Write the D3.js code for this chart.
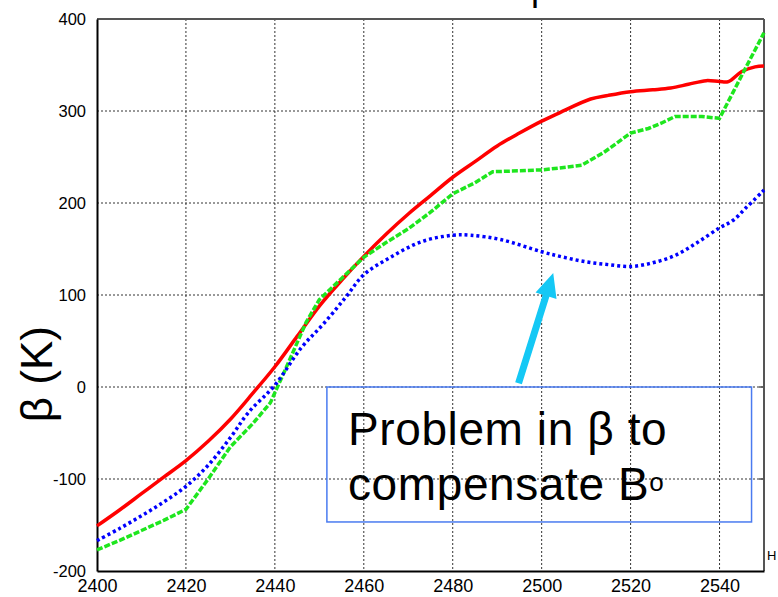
<!DOCTYPE html>
<html>
<head>
<meta charset="utf-8">
<script src="https://cdn.jsdelivr.net/npm/d3@7"></script>
<style>
  body { margin: 0; background: #fff; }
  svg { display: block; }
</style>
</head>
<body>
<svg id="chart" width="778" height="597"></svg>
<script>
// red (solid)
const redX = [2400, 2405, 2410, 2415, 2420, 2425, 2430, 2435, 2440, 2445, 2450, 2455, 2460, 2465, 2470, 2475, 2480, 2485, 2490, 2495, 2500, 2504, 2511, 2515, 2520, 2525, 2529, 2533, 2537, 2540, 2542, 2545, 2548, 2550];
const redY = [-151, -134, -116, -98, -80, -59, -35, -7, 22, 55, 88, 116, 142, 166, 188, 208, 228, 245, 262, 276, 289, 298, 313, 317, 321, 323, 325, 329, 333, 332, 332, 343, 348, 349];

// green (dashed)
const greenX = [2400, 2405, 2410, 2415, 2420, 2425, 2430, 2435, 2439, 2443, 2447, 2450, 2455, 2460, 2465, 2470, 2475, 2480, 2485, 2489, 2495, 2500, 2504, 2509, 2514, 2520, 2524, 2527, 2530, 2536, 2540, 2543, 2546, 2550];
const greenY = [-177, -167, -156, -145, -133, -100, -65, -40, -17, 26, 70, 95, 118, 141, 157, 172, 190, 210, 222, 234, 235, 236, 238, 241, 255, 276, 281, 287, 294, 294, 292, 320, 348, 385];

// blue (dotted)
const blueX = [2400, 2405, 2410, 2415, 2420, 2425, 2430, 2434, 2440, 2446, 2451, 2456, 2460, 2466, 2473, 2480, 2484, 2491, 2500, 2505, 2510, 2515, 2520, 2525, 2530, 2535, 2540, 2543, 2546, 2550];
const blueY = [-167, -154, -140, -125, -108, -85, -55, -28, 2, 43, 69, 98, 122, 141, 158, 165, 165, 160, 147, 141, 136, 133, 131, 135, 143, 157, 173, 181, 195, 214];

const xTicks = [2400, 2420, 2440, 2460, 2480, 2500, 2520, 2540];
const yTicks = [-200, -100, 0, 100, 200, 300, 400];

// annotation, in data units
const boxX = [2451.7, 2547.2];
const boxY = [0, -146.7];
const arrowFrom = [2494.8, 4];
const arrowTo = [2502.6, 124];

const svg = d3.select('#chart');
const margin = { top: 19, right: 14, bottom: 26, left: 97 };
const width = 778, height = 597;

const x = d3.scaleLinear().domain([2400, 2550]).range([margin.left, width - margin.right]);
const y = d3.scaleLinear().domain([-200, 400]).range([height - margin.bottom, margin.top]);

// cropped title fragment
svg.append('text')
    .attr('x', 531)
    .attr('y', 0)
    .attr('font-family', 'Liberation Sans, Arial, sans-serif')
    .attr('font-size', '36px')
    .attr('fill', '#000')
    .text('p');

// gridlines
svg.append('g')
    .selectAll('line.vgrid')
    .data(xTicks.slice(1))
    .enter().append('line')
    .attr('x1', d => x(d)).attr('x2', d => x(d))
    .attr('y1', y(400)).attr('y2', y(-200))
    .attr('stroke', '#333')
    .attr('stroke-width', 1)
    .attr('stroke-dasharray', '2,2');

svg.append('g')
    .selectAll('line.hgrid')
    .data(yTicks.slice(1, -1))
    .enter().append('line')
    .attr('x1', x(2400)).attr('x2', x(2550))
    .attr('y1', d => y(d)).attr('y2', d => y(d))
    .attr('stroke', '#333')
    .attr('stroke-width', 1)
    .attr('stroke-dasharray', '2,2');

// frame: top/right gray, left/bottom black
svg.append('line')
    .attr('x1', x(2400)).attr('x2', x(2550)).attr('y1', y(400)).attr('y2', y(400))
    .attr('stroke', '#555').attr('stroke-width', 2);
svg.append('line')
    .attr('x1', x(2550)).attr('x2', x(2550)).attr('y1', y(400)).attr('y2', y(-200))
    .attr('stroke', '#555').attr('stroke-width', 2);

// tick marks on right border
svg.append('g')
    .selectAll('line')
    .data(yTicks.slice(1, -1))
    .enter().append('line')
    .attr('x1', x(2550) - 5).attr('x2', x(2550))
    .attr('y1', d => y(d)).attr('y2', d => y(d))
    .attr('stroke', '#555').attr('stroke-width', 1.5);

const tickFont = 'Liberation Sans, Arial, sans-serif';
const fmt = d => String(d); // plain hyphen minus like the original

const xAxis = svg.append('g')
    .attr('transform', `translate(0, ${y(-200)})`)
    .call(d3.axisBottom(x).tickValues(xTicks).tickSize(0).tickPadding(8).tickFormat(fmt));
xAxis.select('.domain').attr('stroke', '#000').attr('stroke-width', 2);
xAxis.selectAll('text')
    .style('font-family', tickFont)
    .style('font-size', '18px')
    .attr('fill', '#000');

const yAxis = svg.append('g')
    .attr('transform', `translate(${x(2400)}, 0)`)
    .call(d3.axisLeft(y).tickValues(yTicks).tickSize(0).tickPadding(11).tickFormat(fmt));
yAxis.select('.domain').attr('stroke', '#000').attr('stroke-width', 2);
yAxis.selectAll('text')
    .style('font-family', tickFont)
    .style('font-size', '16.5px')
    .attr('fill', '#000');

// y label
svg.append('text')
    .attr('transform', `translate(52, ${y(14)}) rotate(-90)`)
    .attr('text-anchor', 'middle')
    .attr('font-family', 'Liberation Sans, Arial, sans-serif')
    .attr('font-size', '44px')
    .attr('fill', '#000')
    .text('β (K)');

// cropped "H" at the right
svg.append('text')
    .attr('x', 767)
    .attr('y', 560)
    .attr('font-family', 'Liberation Sans, Arial, sans-serif')
    .attr('font-size', '13px')
    .attr('fill', '#000')
    .text('H');

function drawSeries(xs, ys, color, dash, curve) {
    const pts = xs.map((v, i) => [v, ys[i]]);
    svg.append('path')
        .datum(pts)
        .attr('fill', 'none')
        .attr('stroke', color)
        .attr('stroke-width', 3.5)
        .attr('stroke-dasharray', dash)
        .attr('d', d3.line()
            .x(d => x(d[0]))
            .y(d => y(d[1]))
            .curve(curve));
}

drawSeries(redX, redY, '#ff0000', null, d3.curveCatmullRom);
drawSeries(greenX, greenY, '#1ee61e', '6,2', d3.curveLinear);
drawSeries(blueX, blueY, '#0000ff', '3,3', d3.curveCatmullRom);

// annotation box
svg.append('rect')
    .attr('x', x(boxX[0]))
    .attr('y', y(boxY[0]))
    .attr('width', x(boxX[1]) - x(boxX[0]))
    .attr('height', y(boxY[1]) - y(boxY[0]))
    .attr('fill', 'none')
    .attr('stroke', '#4a7bf0')
    .attr('stroke-width', 1.5);

const ann = svg.append('text')
    .attr('font-family', 'Liberation Sans, Arial, sans-serif')
    .attr('font-size', '46px')
    .attr('letter-spacing', '0.6px')
    .attr('fill', '#000');
ann.append('tspan').attr('x', 348).attr('y', 445).text('Problem in β to');
ann.append('tspan').attr('x', 348).attr('y', 500).text('compensate B');
ann.append('tspan').attr('font-size', '26px').attr('dy', -9).text('o');

// cyan arrow
const ax0 = x(arrowFrom[0]), ay0 = y(arrowFrom[1]);
const ax1 = x(arrowTo[0]), ay1 = y(arrowTo[1]);
const ang = Math.atan2(ay1 - ay0, ax1 - ax0);
const headLen = 24, headW = 11, shaftW = 3.5;
const bx = ax1 - headLen * Math.cos(ang), by = ay1 - headLen * Math.sin(ang);
const nx = -Math.sin(ang), ny = Math.cos(ang);
const arrowPts = [
    [ax0 + nx * shaftW, ay0 + ny * shaftW],
    [bx + nx * shaftW, by + ny * shaftW],
    [bx + nx * headW, by + ny * headW],
    [ax1, ay1],
    [bx - nx * headW, by - ny * headW],
    [bx - nx * shaftW, by - ny * shaftW],
    [ax0 - nx * shaftW, ay0 - ny * shaftW]
];
svg.append('polygon')
    .attr('points', arrowPts.map(p => p.join(',')).join(' '))
    .attr('fill', '#14c8f5');
</script>
</body>
</html>
